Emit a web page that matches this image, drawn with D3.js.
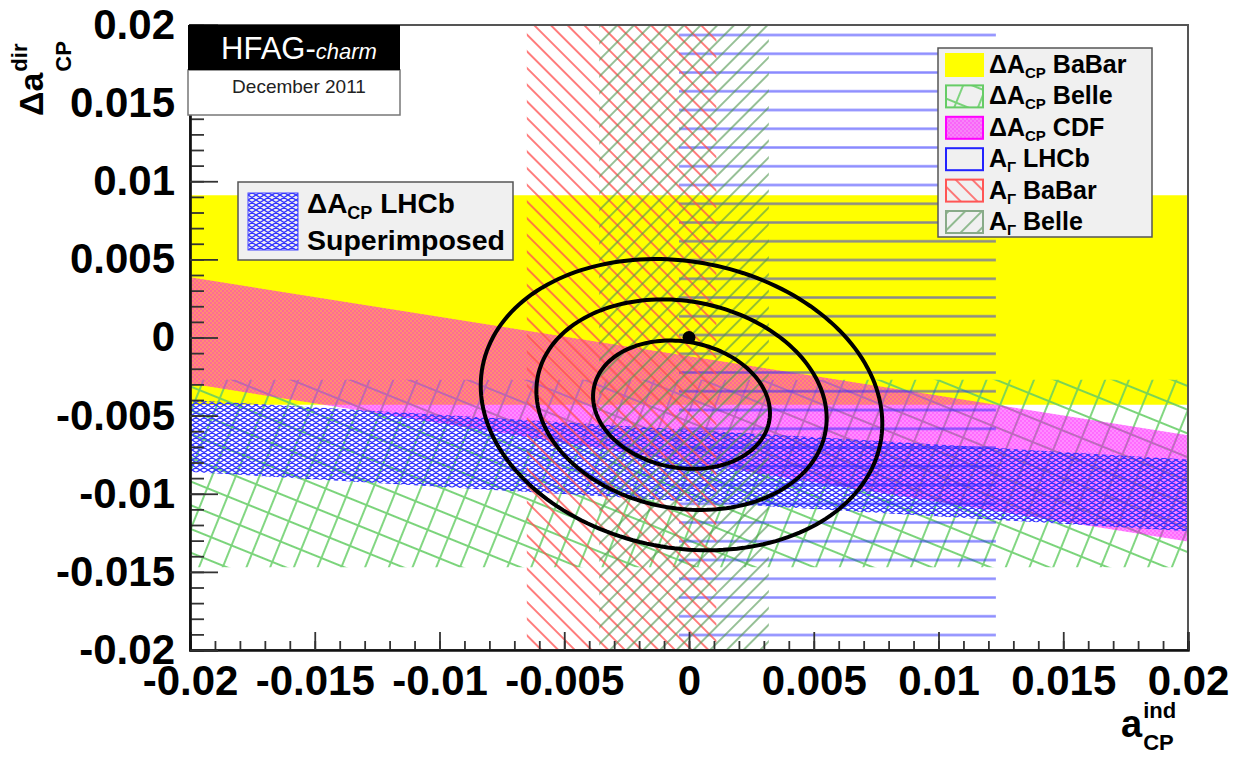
<!DOCTYPE html>
<html><head><meta charset="utf-8">
<script src="https://cdn.jsdelivr.net/npm/d3@7"></script>
<style>
body{margin:0;background:#fff}
text{font-family:"Liberation Sans",Arial,Helvetica,sans-serif}
</style></head>
<body><svg id="c" width="1235" height="762"></svg>
<script>
// ---- axis ranges and ticks ----
const xDomain = [-0.02, 0.02];
const yDomain = [-0.02, 0.02];
const majorTicks = [-0.02, -0.015, -0.01, -0.005, 0, 0.005, 0.01, 0.015, 0.02];
const tickLabels = ["-0.02", "-0.015", "-0.01", "-0.005", "0", "0.005", "0.01", "0.015", "0.02"];
const minorStep = 0.001;

// ---- ΔA_CP measurements: band  Δa_dir = centre - slope * a_ind ± half ----
const dacpNames  = ["BaBar", "Belle", "CDF", "LHCb"];
const dacpCentre = [0.0024, -0.0087, -0.0046, -0.0082];
const dacpHalf   = [0.0067, 0.0060, 0.0034, 0.0023];
const dacpSlope  = [0.0, 0.0, 0.2525, 0.095];

// ---- A_Γ measurements: vertical bands in a_ind ----
const agNames = ["LHCb", "BaBar", "Belle"];
const agLow   = [-0.0004, -0.0065, -0.0036];
const agHigh  = [0.0123, 0.0011, 0.0032];

// ---- world average and no-CPV point ----
const fitCentre = [-0.0003, -0.0043];
const fitSigma  = [0.00234, 0.00271];
const fitRho    = -0.13;
const contourScale = [1.515, 2.486, 3.439];   // sqrt(Δχ²) for 1σ, 2σ, 3σ in 2D
const noCpvPoint = [0, 0];

// ---- legend text ----
const legendRows = [
  {main: "ΔA", sub: "CP", rest: " BaBar", swatch: "dacpBaBar"},
  {main: "ΔA", sub: "CP", rest: " Belle", swatch: "dacpBelle"},
  {main: "ΔA", sub: "CP", rest: " CDF",   swatch: "dacpCDF"},
  {main: "A",  sub: "Γ",  rest: " LHCb",  swatch: "agLHCb"},
  {main: "A",  sub: "Γ",  rest: " BaBar", swatch: "agBaBar"},
  {main: "A",  sub: "Γ",  rest: " Belle", swatch: "agBelle"}
];

const svg = d3.select("#c");
const plot = {left: 190, right: 1188, top: 25, bottom: 650};

const x = d3.scaleLinear().domain(xDomain).range([plot.left, plot.right]);
const y = d3.scaleLinear().domain(yDomain).range([plot.bottom, plot.top]);

// ---- fill patterns ----
const defs = svg.append("defs");
function linePattern(id, spacing, angle, color, width, offset) {
  const p = defs.append("pattern").attr("id", id)
    .attr("patternUnits", "userSpaceOnUse")
    .attr("y", offset || 0)
    .attr("width", 40).attr("height", spacing)
    .attr("patternTransform", `rotate(${angle})`);
  p.append("line").attr("x1", 0).attr("x2", 40)
    .attr("y1", spacing / 2).attr("y2", spacing / 2)
    .attr("stroke", color).attr("stroke-width", width);
}
linePattern("pAgLHCb", 18.75, 0, "rgba(40,40,255,0.55)", 2.6, 6.9);
linePattern("pAgBaBar", 11.8, 45, "rgba(255,80,80,0.75)", 2.0);
linePattern("pAgBelle", 11.8, -45, "rgba(80,150,80,0.6)", 2.0);

// Belle ΔA_CP: tilted square grid
(function () {
  const s = 22;
  const p = defs.append("pattern").attr("id", "pDacpBelle")
    .attr("patternUnits", "userSpaceOnUse")
    .attr("width", s).attr("height", s)
    .attr("patternTransform", "rotate(22)");
  p.append("path").attr("d", `M0,1H${s}M1,0V${s}`)
    .attr("stroke", "rgba(100,205,100,0.85)").attr("stroke-width", 1.9).attr("fill", "none");
})();

// CDF ΔA_CP: fine magenta dot screen
(function () {
  const p = defs.append("pattern").attr("id", "pDacpCDF")
    .attr("patternUnits", "userSpaceOnUse").attr("width", 4).attr("height", 4);
  p.append("rect").attr("width", 4).attr("height", 4).attr("fill", "rgba(255,0,255,0.45)");
  p.append("circle").attr("cx", 1).attr("cy", 1).attr("r", 0.9).attr("fill", "rgba(255,0,255,0.35)");
  p.append("circle").attr("cx", 3).attr("cy", 3).attr("r", 0.9).attr("fill", "rgba(255,0,255,0.35)");
})();

// LHCb ΔA_CP: dense blue mesh with open cells
(function () {
  const w = 8, h = 5;
  const p = defs.append("pattern").attr("id", "pDacpLHCb")
    .attr("patternUnits", "userSpaceOnUse").attr("width", w).attr("height", h);
  p.append("path").attr("d", `M0,0L${w},${h}M0,${h}L${w},0M-${w},0L${w},${2*h}M0,-${h}L${2*w},${h}`)
    .attr("stroke", "#3030ff").attr("stroke-width", 1.3).attr("fill", "none");
})();

defs.append("clipPath").attr("id", "frameClip")
  .append("rect").attr("x", plot.left).attr("y", plot.top)
  .attr("width", plot.right - plot.left).attr("height", plot.bottom - plot.top);

const fills = {
  dacpBaBar: "#ffff00",
  dacpBelle: "url(#pDacpBelle)",
  dacpCDF: "url(#pDacpCDF)",
  dacpLHCb: "url(#pDacpLHCb)",
  agLHCb: "url(#pAgLHCb)",
  agBaBar: "url(#pAgBaBar)",
  agBelle: "url(#pAgBelle)"
};

const area = svg.append("g").attr("clip-path", "url(#frameClip)");

function dacpBand(i) {
  const xs = [xDomain[0], xDomain[1]];
  const up = xs.map(a => [a, dacpCentre[i] - dacpSlope[i] * a + dacpHalf[i]]);
  const lo = xs.map(a => [a, dacpCentre[i] - dacpSlope[i] * a - dacpHalf[i]]).reverse();
  return d3.line().x(d => x(d[0])).y(d => y(d[1]))(up.concat(lo)) + "Z";
}
function agBand(i) {
  const pts = [[agLow[i], yDomain[0]], [agLow[i], yDomain[1]], [agHigh[i], yDomain[1]], [agHigh[i], yDomain[0]]];
  return d3.line().x(d => x(d[0])).y(d => y(d[1]))(pts) + "Z";
}

// draw order: BaBar, Belle, CDF ΔA_CP; LHCb ΔA_CP mesh; A_Γ hatches
area.append("path").attr("d", dacpBand(0)).attr("fill", fills.dacpBaBar);
area.append("path").attr("d", dacpBand(1)).attr("fill", fills.dacpBelle);
area.append("path").attr("d", dacpBand(2)).attr("fill", fills.dacpCDF);
area.append("path").attr("d", dacpBand(3)).attr("fill", fills.dacpLHCb);
area.append("path").attr("d", agBand(0)).attr("fill", fills.agLHCb);
area.append("path").attr("d", agBand(1)).attr("fill", fills.agBaBar);
area.append("path").attr("d", agBand(2)).attr("fill", fills.agBelle);

// ---- world-average contours ----
const ell = d3.range(0, 361, 2).map(d => d * Math.PI / 180);
contourScale.forEach(k => {
  const pts = ell.map(t => [
    fitCentre[0] + k * fitSigma[0] * Math.cos(t),
    fitCentre[1] + k * fitSigma[1] * (fitRho * Math.cos(t) + Math.sqrt(1 - fitRho * fitRho) * Math.sin(t))
  ]);
  area.append("path")
    .attr("d", d3.line().x(d => x(d[0])).y(d => y(d[1])).curve(d3.curveLinearClosed)(pts))
    .attr("fill", "none").attr("stroke", "#000").attr("stroke-width", 4);
});
area.append("circle").attr("cx", x(noCpvPoint[0])).attr("cy", y(noCpvPoint[1]))
  .attr("r", 6.5).attr("fill", "#000");

// ---- frame ----
svg.append("rect").attr("x", plot.left).attr("y", plot.top)
  .attr("width", plot.right - plot.left).attr("height", plot.bottom - plot.top)
  .attr("fill", "none").attr("stroke", "#555").attr("stroke-width", 2);

// ---- axes ----
const minorTicks = d3.range(-20, 21).map(i => i * minorStep);
const fmt = d => tickLabels[majorTicks.findIndex(t => Math.abs(t - d) < 1e-9)];

const xg = svg.append("g").attr("transform", `translate(0,${plot.bottom})`);
xg.call(d3.axisBottom(x).tickValues(minorTicks).tickSize(-9).tickFormat(""));
xg.append("g").call(d3.axisBottom(x).tickValues(majorTicks).tickSize(-18).tickPadding(15).tickFormat(fmt));

const yg = svg.append("g").attr("transform", `translate(${plot.left},0)`);
yg.call(d3.axisLeft(y).tickValues(minorTicks).tickSize(-14).tickFormat(""));
yg.append("g").call(d3.axisLeft(y).tickValues(majorTicks).tickSize(-28).tickPadding(15).tickFormat(fmt));

svg.selectAll(".domain").attr("stroke", "#111").attr("stroke-width", 2.2);
svg.selectAll(".tick line").attr("stroke", "#333").attr("stroke-width", 1.8);
svg.selectAll(".tick text").attr("font-size", 42).attr("font-weight", "bold")
  .attr("fill", "#000").style("font-family", "'Liberation Sans',Arial,sans-serif");

// ---- axis titles ----
// y title: Δa^dir_CP, rotated
(function () {
  const g = svg.append("g").attr("transform", "translate(43,116) rotate(-90)");
  const t = g.append("text").attr("font-size", 34).attr("font-weight", "bold").text("Δa");
  const w = t.node().getComputedTextLength();
  g.append("text").attr("x", w + 1).attr("y", -16).attr("font-size", 22).attr("font-weight", "bold").text("dir");
  g.append("text").attr("x", w + 1).attr("y", 28).attr("font-size", 22).attr("font-weight", "bold").text("CP");
})();
// x title: a^ind_CP
(function () {
  const g = svg.append("g").attr("transform", "translate(1121,737)");
  const t = g.append("text").attr("font-size", 38).attr("font-weight", "bold").text("a");
  const w = t.node().getComputedTextLength();
  g.append("text").attr("x", w + 1).attr("y", -19).attr("font-size", 22).attr("font-weight", "bold").text("ind");
  g.append("text").attr("x", w + 1).attr("y", 13).attr("font-size", 22).attr("font-weight", "bold").text("CP");
})();

// ---- HFAG label ----
svg.append("rect").attr("x", 188).attr("y", 70).attr("width", 212).attr("height", 45)
  .attr("fill", "#fff").attr("stroke", "#777").attr("stroke-width", 1.5);
svg.append("rect").attr("x", 188).attr("y", 25).attr("width", 212).attr("height", 45).attr("fill", "#000");
svg.append("text").attr("x", 299).attr("y", 59).attr("text-anchor", "middle")
  .attr("fill", "#fff").attr("font-size", 31)
  .call(t => { t.append("tspan").text("HFAG-"); t.append("tspan").attr("font-style", "italic").attr("font-size", 22).text("charm"); });
svg.append("text").attr("x", 299).attr("y", 93).attr("text-anchor", "middle")
  .attr("fill", "#222").attr("font-size", 19).text("December 2011");

// ---- main legend ----
const lg = svg.append("g");
lg.append("rect").attr("x", 938).attr("y", 48).attr("width", 214).attr("height", 189)
  .attr("fill", "#f0f0f0").attr("stroke", "#555").attr("stroke-width", 1.5);
const swatchStroke = {
  dacpBaBar: "#ffff00", dacpBelle: "#6c6", dacpCDF: "#f0f", agLHCb: "#22f", agBaBar: "#f55", agBelle: "#8a8"
};
legendRows.forEach((r, i) => {
  const cy = 65 + i * 31.4;
  lg.append("rect").attr("x", 946).attr("y", cy - 11).attr("width", 37).attr("height", 22)
    .attr("fill", r.swatch === "agLHCb" ? "#f0f0f0" : fills[r.swatch])
    .attr("stroke", swatchStroke[r.swatch]).attr("stroke-width", 2);
  const t = lg.append("text").attr("x", 989).attr("y", cy + 8).attr("font-size", 25).attr("font-weight", "bold");
  t.append("tspan").text(r.main);
  t.append("tspan").attr("font-size", 15).attr("dy", 5).text(r.sub);
  t.append("tspan").attr("dy", -5).text(r.rest);
});

// ---- LHCb ΔA_CP legend ----
const lg2 = svg.append("g");
lg2.append("rect").attr("x", 238).attr("y", 182).attr("width", 275).attr("height", 78)
  .attr("fill", "#f0f0f0").attr("stroke", "#555").attr("stroke-width", 1.5);
lg2.append("rect").attr("x", 248).attr("y", 193).attr("width", 50).attr("height", 57)
  .attr("fill", fills.dacpLHCb).attr("stroke", "#44f").attr("stroke-width", 1);
const t2 = lg2.append("text").attr("x", 307).attr("y", 213).attr("font-size", 28).attr("font-weight", "bold");
t2.append("tspan").text("ΔA");
t2.append("tspan").attr("font-size", 18).attr("dy", 6).text("CP");
t2.append("tspan").attr("dy", -6).text(" LHCb");
lg2.append("text").attr("x", 307).attr("y", 250).attr("font-size", 28.5).attr("font-weight", "bold").text("Superimposed");
</script></body></html>
